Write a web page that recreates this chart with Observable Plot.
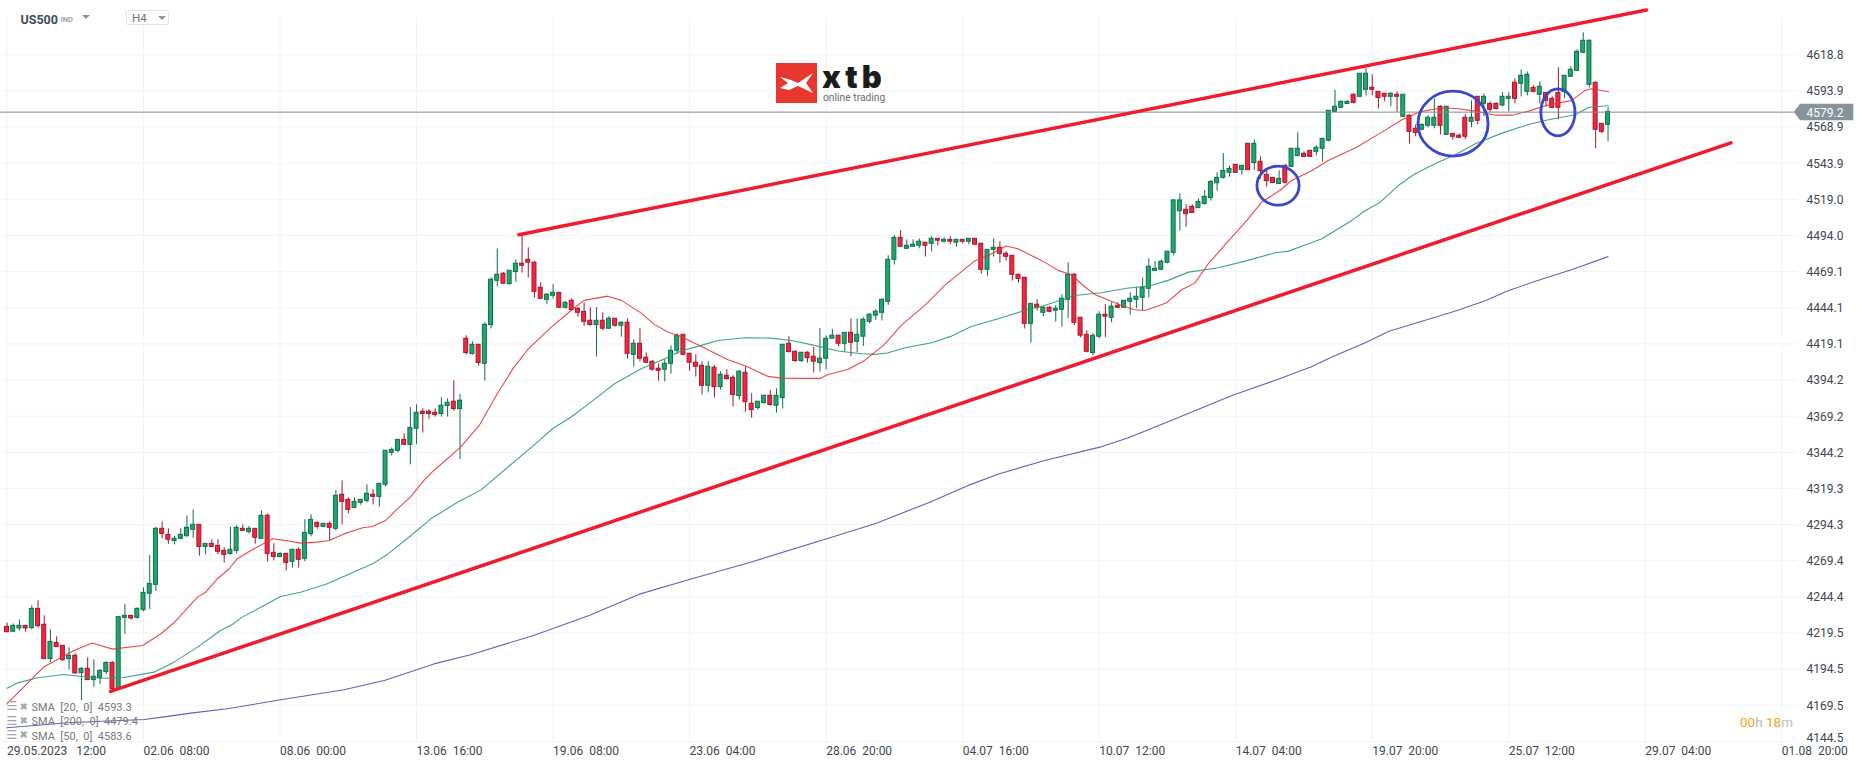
<!DOCTYPE html>
<html>
<head>
<meta charset="utf-8">
<script src="https://cdn.jsdelivr.net/npm/d3@7"></script>
<script src="https://cdn.jsdelivr.net/npm/@observablehq/plot@0.6"></script>
<style>
html,body{margin:0;padding:0;background:#fff;overflow:hidden}
#wrap{position:relative;width:1866px;height:767px;font-family:Roboto,sans-serif}
#wrap svg{display:block}
.ov{position:absolute;white-space:nowrap}
</style>
</head>
<body>
<div id="wrap"></div>
<script>
const direction="RGGRGRRGRRGRGRGGGRGGRGGGGRRGGGGRGRRRGGRGRGRRGRGRGGRGRGRRGGGRGGGGRGGRRRGGRGRGRGGGRGGRRRRGGRGRRRRGRGRGRGRRRRGGGRRRRGRGRRGRRGGRGGRRGRRGGGRGRGGGGGGGRGGGRGRGRGRGRRGGRRRRRGRGRGGGRRRGGRGRGGGGGGGGGGRRGGGGGGRGRGRRRGRGGRRGGGGGGRGGRRRGRGRRGGGRGRRRGRGRRGGRGGRGRRRGGGGGRRGG";
const highs=[4226.2,4225.8,4228.5,4224.4,4238.2,4241.7,4231.3,4221.6,4216.8,4210.6,
4209.2,4205.1,4195.6,4202.3,4200.9,4194.0,4199.5,4199.5,4230.4,4239.1,
4231.3,4236.8,4250.6,4273.0,4292.5,4296.2,4291.4,4286.1,4291.4,4300.4,
4304.5,4294.1,4281.0,4283.8,4283.8,4278.3,4292.5,4293.5,4294.1,4293.0,
4291.4,4303.8,4301.7,4281.0,4274.8,4274.1,4276.9,4278.3,4297.6,4301.1,
4296.2,4294.8,4296.2,4317.9,4324.5,4312.8,4312.8,4311.4,4321.8,4318.3,
4322.5,4345.3,4347.3,4352.8,4357.0,4375.2,4377.1,4374.3,4373.6,4374.3,
4381.9,4381.2,4393.7,4384.2,4424.7,4420.6,4418.5,4433.7,4464.8,4484.8,
4468.3,4469.6,4477.2,4494.5,4485.5,4475.9,4461.4,4453.8,4460.0,4454.4,
4448.2,4450.3,4444.1,4447.5,4444.1,4444.1,4440.6,4437.9,4436.5,4434.4,
4436.5,4422.0,4429.6,4413.0,4407.5,4405.4,4408.2,4417.8,4426.1,4425.4,
4412.3,4411.6,4406.8,4406.8,4404.0,4399.9,4401.3,4397.1,4400.6,4403.3,
4384.7,4379.2,4383.3,4386.8,4388.1,4418.5,4424.1,4414.2,4413.0,4413.7,
4416.7,4429.8,4424.5,4429.1,4424.8,4426.8,4436.3,4436.5,4437.2,4439.9,
4442.7,4450.3,4480.0,4494.0,4497.5,4491.0,4491.0,4491.7,4489.0,4493.1,
4491.7,4492.4,4493.1,4491.0,4491.0,4491.7,4491.7,4488.3,4484.1,4491.7,
4489.7,4482.8,4480.0,4466.9,4464.8,4446.8,4449.6,4444.8,4444.8,4445.5,
4453.1,4475.2,4467.6,4437.2,4428.2,4426.1,4441.3,4446.2,4447.5,4447.5,
4448.9,4454.4,4457.9,4464.8,4477.9,4475.9,4477.2,4482.8,4518.8,4522.8,
4515.4,4515.2,4519.3,4525.0,4532.0,4537.3,4550.6,4542.1,4542.8,4542.1,
4557.3,4560.1,4548.3,4538.4,4533.8,4538.7,4542.8,4553.9,4564.9,4551.8,
4552.7,4556.0,4560.8,4580.1,4594.2,4587.0,4587.0,4591.9,4605.9,4609.1,
4605.0,4593.2,4591.9,4592.5,4593.2,4591.2,4577.4,4570.4,4571.1,4576.7,
4588.2,4583.6,4582.9,4564.2,4564.2,4577.4,4587.0,4589.8,4591.9,4586.3,
4585.6,4592.5,4592.5,4602.2,4608.4,4607.0,4597.4,4600.1,4592.5,4589.8,
4609.8,4604.3,4610.5,4622.2,4634.0,4629.1,4600.1,4571.1,4582.2];
const bodyTops=[4223.7,4224.4,4224.4,4224.4,4236.1,4236.1,4225.1,4213.3,4212.6,4210.6,
4203.7,4203.7,4194.7,4194.7,4189.2,4193.3,4198.8,4198.8,4230.4,4231.3,
4231.3,4236.1,4247.2,4253.4,4291.4,4291.4,4287.2,4284.5,4287.2,4292.1,
4294.1,4294.1,4281.0,4281.0,4279.6,4276.2,4276.9,4292.1,4291.4,4291.4,
4291.4,4300.4,4300.4,4274.8,4274.1,4274.1,4276.9,4276.9,4288.6,4297.6,
4295.5,4294.8,4294.8,4314.2,4314.9,4311.4,4310.0,4311.4,4315.6,4314.9,
4322.5,4345.3,4345.9,4352.8,4352.8,4361.1,4371.6,4372.3,4372.3,4371.6,
4376.4,4378.5,4379.2,4379.9,4422.7,4418.5,4418.5,4432.3,4463.4,4466.9,
4467.6,4469.6,4474.5,4474.5,4477.2,4475.2,4457.9,4453.1,4454.4,4454.4,
4447.5,4448.9,4443.4,4441.3,4435.1,4435.1,4435.1,4436.5,4436.5,4433.7,
4433.7,4419.2,4419.2,4409.6,4406.8,4402.0,4405.4,4414.4,4424.7,4425.4,
4412.3,4406.1,4404.0,4403.3,4402.7,4397.8,4397.1,4395.7,4399.9,4399.2,
4377.8,4379.2,4383.3,4383.3,4383.3,4418.5,4419.2,4413.7,4413.0,4413.0,
4410.2,4408.9,4422.7,4424.8,4424.8,4426.8,4426.8,4425.4,4435.8,4439.3,
4441.3,4449.6,4477.2,4492.4,4492.4,4486.9,4487.6,4489.7,4489.0,4491.7,
4491.7,4491.0,4491.0,4491.0,4491.0,4491.7,4491.7,4488.3,4484.1,4485.5,
4485.5,4481.4,4480.0,4466.9,4464.8,4446.8,4446.2,4444.1,4444.1,4443.4,
4450.3,4466.9,4466.9,4437.2,4425.4,4424.7,4439.3,4439.3,4444.8,4445.5,
4448.9,4450.3,4451.7,4457.9,4472.4,4471.0,4475.9,4482.8,4518.2,4518.2,
4511.7,4513.8,4517.2,4520.7,4531.0,4533.8,4538.6,4540.0,4542.8,4542.1,
4557.3,4557.3,4544.9,4535.9,4533.8,4533.1,4542.1,4553.9,4553.9,4550.4,
4552.5,4554.6,4560.8,4580.1,4582.9,4586.3,4586.3,4591.2,4605.7,4605.7,
4596.0,4593.2,4591.9,4591.9,4591.2,4591.2,4576.7,4567.7,4570.4,4575.3,
4575.3,4582.9,4582.9,4564.2,4562.9,4575.3,4575.3,4589.8,4589.8,4584.9,
4584.9,4589.8,4589.8,4599.5,4604.3,4605.0,4596.0,4596.7,4592.5,4588.4,
4592.5,4604.3,4608.4,4620.9,4628.5,4628.5,4599.4,4571.1,4579.4];
const bodyBottoms=[4220.0,4220.3,4222.6,4222.6,4222.8,4224.2,4201.4,4201.4,4209.7,4200.7,
4201.4,4191.5,4191.7,4186.9,4186.9,4188.2,4192.4,4180.7,4180.7,4229.9,
4229.5,4229.9,4235.2,4246.5,4252.7,4287.9,4283.8,4282.9,4284.5,4286.3,
4290.7,4278.9,4278.9,4278.9,4275.5,4273.4,4274.1,4276.2,4290.0,4289.3,
4285.2,4284.5,4274.1,4272.0,4272.0,4267.9,4268.6,4270.0,4270.7,4287.7,
4292.8,4292.8,4292.1,4291.4,4310.0,4304.5,4305.9,4309.3,4310.7,4313.5,
4313.5,4321.8,4343.9,4345.3,4349.4,4349.4,4360.5,4370.7,4370.7,4370.0,
4370.7,4376.2,4374.1,4374.1,4412.8,4412.1,4405.9,4405.4,4432.1,4462.7,
4460.7,4460.4,4468.7,4473.1,4475.2,4455.1,4450.3,4449.6,4452.4,4444.1,
4444.1,4442.5,4440.6,4434.4,4432.1,4432.1,4429.6,4429.6,4431.7,4431.7,
4412.3,4411.6,4408.9,4406.1,4401.3,4400.6,4401.3,4405.4,4414.4,4411.6,
4406.1,4403.3,4390.2,4390.2,4389.3,4389.3,4394.8,4383.8,4383.1,4378.9,
4373.4,4374.8,4378.2,4376.9,4376.4,4381.7,4413.5,4407.3,4407.3,4409.3,
4406.8,4405.9,4408.9,4422.7,4419.2,4419.2,4419.9,4420.6,4424.1,4434.4,
4438.6,4440.6,4448.2,4477.2,4486.2,4484.8,4486.2,4486.9,4486.9,4488.3,
4490.4,4489.7,4489.7,4489.0,4489.7,4489.7,4487.6,4470.3,4470.3,4484.1,
4481.4,4479.3,4466.9,4463.9,4433.0,4433.0,4444.1,4440.6,4441.3,4442.0,
4442.7,4449.6,4433.7,4424.8,4413.7,4412.8,4424.1,4437.9,4437.2,4444.1,
4444.1,4448.2,4449.6,4451.0,4457.2,4469.6,4470.3,4475.2,4482.0,4510.8,
4508.7,4509.6,4512.9,4515.8,4519.8,4530.1,4533.8,4537.3,4537.3,4539.3,
4539.1,4544.0,4538.4,4531.5,4530.2,4529.5,4530.4,4541.4,4548.8,4548.3,
4548.3,4551.8,4553.9,4559.4,4579.4,4582.2,4584.9,4585.6,4589.8,4594.6,
4594.6,4588.9,4589.8,4589.8,4589.8,4576.0,4565.6,4564.9,4567.0,4569.8,
4569.8,4569.8,4563.5,4562.2,4561.5,4562.2,4572.5,4573.2,4584.9,4580.8,
4581.3,4583.8,4588.4,4588.4,4598.8,4593.2,4593.2,4591.2,4587.0,4582.2,
4582.2,4593.0,4603.6,4607.7,4620.2,4598.1,4567.0,4565.6,4570.4];
const lows=[4219.6,4220.0,4220.7,4220.0,4221.6,4222.8,4201.4,4199.1,4209.7,4199.8,
4193.8,4191.2,4172.8,4186.6,4182.0,4183.9,4190.8,4180.7,4180.7,4218.6,
4228.3,4229.0,4234.1,4235.7,4248.1,4284.5,4280.6,4280.3,4283.8,4285.6,
4284.9,4272.5,4273.4,4278.7,4273.4,4267.7,4273.2,4274.1,4289.5,4287.7,
4280.8,4284.5,4268.4,4269.3,4271.4,4262.2,4264.2,4264.2,4268.6,4285.9,
4291.2,4292.1,4283.3,4290.0,4294.1,4301.7,4305.2,4307.7,4309.3,4307.9,
4306.3,4320.2,4341.8,4343.9,4349.4,4335.6,4349.7,4357.5,4367.0,4368.6,
4368.6,4368.6,4372.7,4339.3,4411.4,4411.4,4403.8,4393.4,4429.4,4458.4,
4460.4,4459.7,4461.8,4468.0,4464.6,4450.8,4449.6,4446.4,4450.1,4443.9,
4443.2,4442.0,4437.6,4431.2,4431.4,4410.0,4428.2,4429.4,4430.7,4423.8,
4408.6,4403.1,4406.8,4405.9,4400.3,4393.4,4392.8,4398.3,4411.6,4410.9,
4400.3,4396.2,4383.8,4385.2,4381.7,4387.2,4394.1,4375.5,4380.3,4372.0,
4367.9,4373.4,4377.6,4376.2,4371.3,4374.1,4412.8,4406.3,4406.3,4405.9,
4399.0,4399.7,4401.0,4422.7,4417.2,4413.7,4410.2,4413.0,4417.4,4433.0,
4435.3,4434.9,4445.7,4473.6,4486.0,4484.6,4486.0,4484.8,4479.1,4482.5,
4486.7,4488.7,4487.6,4486.0,4488.3,4487.4,4487.6,4467.3,4465.9,4479.1,
4474.9,4476.3,4462.5,4461.1,4429.4,4419.7,4441.8,4437.9,4440.6,4434.2,
4430.7,4436.5,4431.7,4423.4,4413.0,4410.9,4422.7,4423.6,4433.7,4443.4,
4443.4,4439.0,4443.4,4442.0,4450.8,4469.4,4469.9,4474.5,4479.9,4497.0,
4499.7,4509.4,4512.9,4514.9,4517.7,4524.6,4532.9,4534.3,4537.0,4535.6,
4538.9,4538.9,4532.9,4527.4,4530.2,4529.5,4530.2,4541.2,4548.6,4547.7,
4547.7,4549.0,4544.7,4558.7,4579.0,4581.9,4584.5,4584.9,4589.1,4590.5,
4590.5,4581.3,4586.3,4582.9,4579.0,4575.3,4557.1,4562.2,4566.3,4568.4,
4567.7,4563.5,4563.5,4560.1,4560.8,4560.1,4568.4,4570.4,4576.0,4579.0,
4580.8,4582.9,4579.4,4584.9,4589.8,4590.5,4592.5,4584.9,4582.6,4581.5,
4573.9,4588.4,4603.4,4607.5,4619.5,4596.0,4553.9,4564.2,4558.7];

const sma20Bar=[0,5.9,10.8,13.7,17,21.9,24.8,26.9,30.7,32,33.9,35.8,37.1,39.8,42.8,45.2,47.3,50,51.9,54.3,57.3,58.9,61,62.9,65,67.2,68.8,73.1,76.1,79,81.7,83.9,87.7,90.9,93,96.8,99,102.2,104.3,106.5,108.6,111.9,116.2,119.4,122.6,124.7,127.9,131,132.3,135.5,138.2,141.4,144.1,147.9,151.1,155.9,158.1,161,162.9,166.7,169.4,171.5,173.7,175.3,179.6,181.7,183.4,186.8,189.3,191.4,193.6,196.8,199.8,202.2,205.1,207,210.3,212.9,217.5,221.3,224.8,227.5,231.2,233.9,236.6,239.8,242.5,245.2,247.9,252.2,254.3,255.3,258.1];
const sma20Val=[4170.5,4195.9,4207.4,4212.6,4208.3,4210.8,4218.9,4226.5,4244.2,4247.6,4256.9,4263.8,4270.7,4277.6,4284.5,4283.1,4281.5,4282.2,4283.3,4287.9,4292.1,4293,4297.1,4305.2,4313.3,4324.8,4331.7,4347.8,4362.8,4384.7,4403.1,4415.1,4430.7,4442.2,4449.2,4452.1,4449.2,4440.4,4432.6,4427.3,4424.3,4417.4,4408.2,4403.1,4396.7,4395.5,4395.3,4395.3,4398,4401.5,4407.7,4418.8,4431.9,4445.7,4459.5,4476.3,4480.2,4486.7,4484.8,4476.8,4469.9,4466.9,4458.4,4453.3,4445.7,4442.7,4442.2,4447.3,4456.5,4461.1,4474.5,4490.1,4504.4,4517,4525.1,4532,4538.9,4545.8,4555,4564.7,4573.9,4579.2,4582.2,4581.5,4579.9,4577.1,4577.1,4579.9,4583.6,4587.3,4594.2,4595.3,4593.3];
const sma50Bar=[0,1.6,4.9,9.2,11.9,15.6,18.8,23.7,26.9,30.7,34.4,36.3,37.9,41.4,44.1,47.3,51.6,54.9,58.9,61.3,65.1,68.3,72.6,76.4,85.8,87.9,90.9,94.1,97.9,102.2,106,108.6,111.9,114.6,118.9,123.1,126.4,130.1,133.9,137.7,139.8,141.9,144.7,149,152.2,155.4,159.7,164,167.2,172,176.4,180.7,183.9,187.1,190.4,195.2,199.5,204.4,206.5,209.7,211.9,216.7,218.9,221.3,224.2,226.9,230.7,233.4,236.6,240.9,245.2,248.4,252.7,254.9,258.1];
const sma50Val=[4181.3,4184.8,4188.5,4190.8,4189.4,4188.2,4188.7,4192.4,4199.3,4209.7,4221.2,4225.3,4230.4,4238.4,4244.7,4247.6,4253.4,4259.6,4267.2,4273.7,4286.8,4298.3,4309.8,4318.3,4352.5,4360.5,4368.6,4378.9,4391.6,4401.9,4408.9,4414.2,4418.1,4421.5,4423.4,4423.1,4421.5,4418.1,4414.2,4412.3,4411.9,4412.8,4416.5,4419.9,4424.5,4431.2,4436.5,4442.2,4445.7,4452.6,4454.4,4457.7,4459,4463,4468.7,4471.7,4476.3,4482.1,4483.2,4488.3,4491.7,4504.4,4511.3,4517,4528.5,4536.6,4544.7,4549.7,4557.3,4564.7,4570.7,4573.9,4577.4,4582.6,4583.6];
const sma200Bar=[0,9.7,22.1,25.3,29.6,35.5,44.1,54.3,60.8,68.8,74.7,85.2,93.8,101.8,109.8,119.7,132.1,140.1,148.7,154.9,159.8,167.2,176.1,180.7,187,192.2,197.4,204.3,210.1,213.5,218.7,222.7,233.7,238.3,241.7,246.3,252.1,258];
const sma200Val=[4154,4157.4,4159.7,4161.5,4164.1,4167.1,4173.3,4180.2,4186.6,4198.1,4204.4,4218.2,4231.6,4246.1,4256.2,4268.2,4284.5,4295.3,4309.8,4321.4,4329.2,4338.6,4347.8,4354.3,4365.1,4374.3,4383.5,4393.9,4403.1,4410,4419.6,4427.9,4442.2,4449.1,4455.5,4462.4,4470.3,4479.4];

const upperBar=[82.48,264.2], upperPrice=[4494.5,4649.7];
const lowerBar=[16.68,277.8], lowerPrice=[4179.1,4558.0];
const circleBar=[204.9,233.1,250], circlePrice=[4528.1,4570.9,4578.7], circleBars=[3.4,5.65,2.75], circlePoints=[13.5,22.4,16.2];

const yTicks=[4618.8,4593.9,4568.9,4543.9,4519.0,4494.0,4469.1,4444.1,4419.1,4394.2,4369.2,4344.2,4319.3,4294.3,4269.4,4244.4,4219.5,4194.5,4169.5];
const yBottomTick=4144.5;
const xTickBars=[0,22,44,66,88,110,132,154,176,198,220,242,264,286];
const xTickLabels=["29.05.2023\u00a0\u00a0\u00a012:00","02.06\u00a0\u00a008:00","08.06\u00a0\u00a000:00","13.06\u00a0\u00a016:00","19.06\u00a0\u00a008:00","23.06\u00a0\u00a004:00","28.06\u00a0\u00a020:00","04.07\u00a0\u00a016:00","10.07\u00a0\u00a012:00","14.07\u00a0\u00a004:00","19.07\u00a0\u00a020:00","25.07\u00a0\u00a012:00","29.07\u00a0\u00a004:00","01.08\u00a0\u00a020:00"];
const lastPrice=4579.2;
const legendLabels=["SMA\u00a0\u00a0[20,\u00a0\u00a00]\u00a0\u00a04593.3","SMA\u00a0\u00a0[200,\u00a0\u00a00]\u00a0\u00a04479.4","SMA\u00a0\u00a0[50,\u00a0\u00a00]\u00a0\u00a04583.6"];

const GREEN="#21a66f",GREEN_D="#0d7048",RED="#f4263f",RED_D="#a5162c",GRID="#f2f3f4";
const candles=highs.map((h,i)=>({i,h,t:bodyTops[i],b:bodyBottoms[i],l:lows[i],up:direction[i]==="G"}));
const linePts=(bars,vals)=>bars.map((b,k)=>({b,v:vals[k]}));

const ellipseMark=(index,{x,y})=>{
  const g=d3.create("svg:g");
  circleBar.forEach((c,k)=>{
    g.append("ellipse")
      .attr("cx",x(c)).attr("cy",y(circlePrice[k]))
      .attr("rx",Math.abs(x(c+circleBars[k])-x(c)))
      .attr("ry",Math.abs(y(circlePrice[k]+circlePoints[k])-y(circlePrice[k])))
      .attr("fill","none").attr("stroke","#3b46cf").attr("stroke-width",2.8);
  });
  return g.node();
};
const tagMark=(index,{x,y})=>{
  const p=y(lastPrice),a=x(288),e=x(297.6),m=x(290);
  return d3.create("svg:polygon")
    .attr("points",[[a,p],[m-6,p-8.3],[e,p-8.3],[e,p+8.3],[m-6,p+8.3]].map(q=>q.join(",")).join(" "))
    .attr("transform","translate(0,0.4)")
    .attr("fill","#87939a").node();
};

const chart=Plot.plot({
  width:1866,height:767,
  marginLeft:0,marginTop:0,marginRight:60,marginBottom:26,
  style:{fontFamily:"Roboto,sans-serif",background:"#fff",overflow:"visible"},
  x:{type:"linear",domain:[0,286],range:[6.5,1781.3],label:null},
  y:{type:"linear",domain:[4144.5,4618.8],range:[741,54.3],label:null},
  marks:[
    Plot.ruleY([...yTicks,yBottomTick],{x1:-0.7,x2:288.6,stroke:GRID,strokeWidth:1}),
    Plot.ruleX(xTickBars,{y1:4144.5,y2:4643.9,stroke:GRID,strokeWidth:1}),
    Plot.axisY(yTicks,{anchor:"right",tickSize:0,tickPadding:0,textAnchor:"start",tickFormat:d=>d.toFixed(1),fontSize:12,fill:"#3d4750",label:null,dy:0.5}),
    Plot.text([yBottomTick],{x:290,y:d=>d,text:d=>d.toFixed(1),textAnchor:"start",fontSize:12,fill:"#3d4750",dy:-3.5}),
    Plot.axisX(xTickBars,{anchor:"bottom",tickSize:0,tickPadding:5,textAnchor:"start",tickFormat:d=>xTickLabels[xTickBars.indexOf(d)],fontSize:12,fill:"#3d4750",label:null}),
    Plot.ruleX(candles,{x:"i",y1:"l",y2:"h",stroke:d=>d.up?GREEN_D:RED_D,strokeWidth:1}),
    Plot.rect(candles,{x1:d=>d.i-0.32,x2:d=>d.i+0.32,y1:"b",y2:"t",fill:d=>d.up?GREEN:RED,stroke:d=>d.up?GREEN_D:RED_D,strokeWidth:1}),
    Plot.line(linePts(sma200Bar,sma200Val),{x:"b",y:"v",stroke:"#4a55ac",strokeWidth:1.1,strokeOpacity:0.9}),
    Plot.line(linePts(sma50Bar,sma50Val),{x:"b",y:"v",stroke:"#2b9a72",strokeWidth:1.1,strokeOpacity:0.9}),
    Plot.line(linePts(sma20Bar,sma20Val),{x:"b",y:"v",stroke:"#e83338",strokeWidth:1.1,strokeOpacity:0.9}),
    Plot.ruleY([lastPrice],{x1:-1.05,x2:288,stroke:"#7e8c92",strokeWidth:1}),
    tagMark,
    Plot.text([lastPrice.toFixed(1)],{x:290,y:()=>lastPrice,text:d=>d,textAnchor:"start",fill:"#fff",fontSize:12,dy:1.5}),
    Plot.line(linePts(upperBar,upperPrice),{x:"b",y:"v",stroke:"#f01c2e",strokeWidth:3.5}),
    Plot.line(linePts(lowerBar,lowerPrice),{x:"b",y:"v",stroke:"#f01c2e",strokeWidth:3.5}),
    ellipseMark,
    ...legendLabels.flatMap((t,k)=>[
      Plot.text([t],{text:d=>d,frameAnchor:"top-left",dx:31,dy:707+14.3*k,lineAnchor:"middle",textAnchor:"start",fontSize:11,fill:"#7a7a7a"}),
      Plot.text(["\u2630"],{text:d=>d,frameAnchor:"top-left",dx:6,dy:706+14.3*k,lineAnchor:"middle",textAnchor:"start",fontSize:12,fill:"#a5a5a5",fontFamily:"DejaVu Sans"}),
      Plot.text(["\u2716"],{text:d=>d,frameAnchor:"top-left",dx:19,dy:706+14.3*k,lineAnchor:"middle",textAnchor:"start",fontSize:10,fill:"#a5a5a5",fontFamily:"DejaVu Sans"})
    ]),
    Plot.text(["US500"],{text:d=>d,frameAnchor:"top-left",dx:20,dy:19.5,lineAnchor:"middle",textAnchor:"start",fontSize:12.5,fontWeight:700,fill:"#3f4d58"}),
    Plot.text(["IND"],{text:d=>d,frameAnchor:"top-left",dx:60,dy:19.5,lineAnchor:"middle",textAnchor:"start",fontSize:7.5,fontWeight:700,fill:"#a0a4a8"})
  ]
});
const wrap=document.getElementById("wrap");
wrap.appendChild(chart);
function overlay(html,css){const d=document.createElement("div");d.className="ov";d.style.cssText=css;d.innerHTML=html;wrap.appendChild(d);}
const tri="width:0;height:0;border-left:4px solid transparent;border-right:4px solid transparent;border-top:4px solid #8f969b;";
overlay("",`left:82px;top:15px;${tri}`);
overlay("H4",`left:126px;top:10px;width:43px;height:15px;box-sizing:border-box;border:1px solid #e2e4e6;border-radius:2px;background:#fff;color:#6b747b;font-size:11.5px;line-height:15px;padding-left:5px;`);
overlay("",`left:158px;top:16px;${tri}`);
overlay(`<span style="color:#f7a21e">00</span><span style="color:#bdbdbd">h</span> <span style="color:#f7a21e">18</span><span style="color:#bdbdbd">m</span>`,`left:1740px;top:714px;font-size:13.5px;line-height:16px;`);
overlay(`<svg width="41" height="40" viewBox="0 0 41 40" style="display:block"><rect width="41" height="40" fill="#e8372c"/><path d="M4 14 L15 17 L22 20 L37 10 L30 20 L37 30 L22 23 L13 27 L4 25 L12 20 Z" fill="#fff"/></svg>`,`left:776px;top:63px;`);
overlay("xtb",`left:822px;top:62px;font-family:Inter,Roboto,sans-serif;font-weight:900;font-size:31px;line-height:30px;letter-spacing:4px;color:#1c1c1c;`);
overlay("online trading",`left:823px;top:92px;font-size:10.3px;line-height:12px;color:#6e6e6e;`);
</script>
</body>
</html>
